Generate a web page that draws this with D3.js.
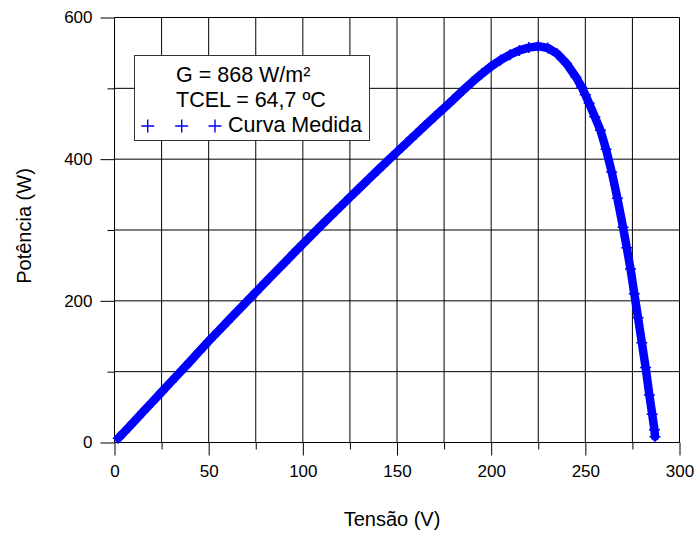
<!DOCTYPE html>
<html>
<head>
<meta charset="utf-8">
<script src="https://cdn.jsdelivr.net/npm/d3@7"></script>
<style>
	body { margin: 0; background: #fff; }
	text { font-family: Arial, 'Liberation Sans', sans-serif; fill: #000; }
</style>
</head>
<body>
<div id="chart"></div>
<script>
// measured P-V curve
var tensao = [2, 5, 10, 15, 20, 25, 30, 35, 40, 45, 50, 55, 60, 65, 70, 75, 80, 85, 90, 95,
	100, 105, 110, 115, 120, 125, 130, 135, 140, 145, 150, 155, 160, 165, 170, 175, 180, 185, 190, 195,
	200, 205, 210, 215, 220, 225, 230, 235, 240, 245, 248, 250, 252, 255, 258, 261, 264, 267, 270,
	272, 274, 276, 278, 280, 282, 284, 285.5, 286.7, 287];
var potencia = [6, 14.3, 28.5, 42.8, 57, 71.3, 85.5, 99.8, 114, 128.5, 143, 156.9, 170.8, 184.6, 198.4, 212.1, 225.8, 239.5, 253.1, 266.8,
	280.3, 293.6, 306.9, 320.1, 333.2, 346.2, 359.1, 372, 384.8, 397.5, 410.1, 422.7, 435.2, 447.6, 459.9, 472.1, 484.5, 497, 509, 520.5,
	531, 540, 547.5, 553.5, 557.5, 559.5, 557, 549, 535, 516, 502, 491, 479, 460, 441, 414, 382, 345, 304,
	275, 245, 210, 176, 141, 106, 67, 40, 18, 8];

var xMajor = [0, 50, 100, 150, 200, 250, 300];
var xMinor = [25, 75, 125, 175, 225, 275];
var yMajor = [0, 200, 400, 600];
var yMinor = [100, 300, 500];
var legendText = ['G = 868 W/m²', 'TCEL = 64,7 ºC'];
var seriesName = 'Curva Medida';

var width = 697, height = 535;
var margin = { top: 17.5, right: 17.5, bottom: 92.5, left: 114.5 };

var svg = d3.select('#chart').append('svg')
	.attr('width', width)
	.attr('height', height);

var x = d3.scaleLinear().domain([0, 300]).range([margin.left, width - margin.right]);
var y = d3.scaleLinear().domain([0, 600]).range([height - margin.bottom, margin.top]);

// grid
var grid = svg.append('g').attr('stroke', '#000').attr('stroke-width', 1);
grid.selectAll('.vgrid')
	.data(xMajor.concat(xMinor))
	.enter().append('line')
	.attr('x1', function(d) { return x(d); })
	.attr('x2', function(d) { return x(d); })
	.attr('y1', y(600))
	.attr('y2', y(0));
grid.selectAll('.hgrid')
	.data(yMajor.concat(yMinor))
	.enter().append('line')
	.attr('x1', x(0))
	.attr('x2', x(300))
	.attr('y1', function(d) { return y(d); })
	.attr('y2', function(d) { return y(d); });

// Add the X Axis
svg.append('g')
	.attr('transform', 'translate(0,' + y(0) + ')')
	.call(d3.axisBottom(x).tickValues(xMajor).tickSize(13).tickPadding(9).tickSizeOuter(0));
svg.append('g')
	.attr('transform', 'translate(0,' + y(0) + ')')
	.call(d3.axisBottom(x).tickValues(xMinor).tickSize(7).tickFormat('').tickSizeOuter(0));

// Add the Y Axis
svg.append('g')
	.attr('transform', 'translate(' + x(0) + ',0)')
	.call(d3.axisLeft(y).tickValues(yMajor).tickSize(14).tickPadding(8).tickSizeOuter(0));
svg.append('g')
	.attr('transform', 'translate(' + x(0) + ',0)')
	.call(d3.axisLeft(y).tickValues(yMinor).tickSize(7).tickFormat('').tickSizeOuter(0));

svg.selectAll('.domain').remove();
svg.selectAll('.tick line').attr('stroke', '#000');
svg.selectAll('.tick text')
	.style('font-family', "Arial, 'Liberation Sans', sans-serif")
	.style('font-size', '17px')
	.attr('fill', '#000');

// curve: thick trace plus the cross markers
var line = d3.line()
	.x(function(d) { return x(d[0]); })
	.y(function(d) { return y(d[1]); });
var pts = tensao.map(function(v, i) { return [v, potencia[i]]; });

svg.append('path')
	.datum(pts)
	.attr('fill', 'none')
	.attr('stroke', '#0000ff')
	.attr('stroke-width', 8.5)
	.attr('stroke-linejoin', 'round')
	.attr('stroke-linecap', 'round')
	.attr('d', line);

svg.append('g').selectAll('path')
	.data(pts)
	.enter().append('path')
	.attr('transform', function(d) { return 'translate(' + x(d[0]) + ',' + y(d[1]) + ')'; })
	.attr('d', 'M-5.5,0H5.5M0,-5.5V5.5')
	.attr('stroke', '#0000ff')
	.attr('stroke-width', 1.5);

// legend
var legend = svg.append('g');
legend.append('rect')
	.attr('x', 134.5).attr('y', 55.5)
	.attr('width', 235).attr('height', 85)
	.attr('fill', '#fff')
	.attr('stroke', '#333');
legend.selectAll('.ltext')
	.data(legendText)
	.enter().append('text')
	.attr('x', 176)
	.attr('y', function(d, i) { return 82 + i * 25; })
	.style('font-size', '21.5px')
	.text(function(d) { return d; });
legend.selectAll('.lmark')
	.data([147.7, 181.7, 215])
	.enter().append('path')
	.attr('transform', function(d) { return 'translate(' + d + ',126)'; })
	.attr('d', 'M-6.5,0H6.5M0,-6.5V6.5')
	.attr('stroke', '#0000ff')
	.attr('stroke-width', 1.4);
legend.append('text')
	.attr('x', 228)
	.attr('y', 132)
	.style('font-size', '21.5px')
	.text(seriesName);

// axis titles
svg.append('text')
	.attr('x', 392)
	.attr('y', 526)
	.attr('text-anchor', 'middle')
	.style('font-size', '20px')
	.text('Tensão (V)');
svg.append('text')
	.attr('transform', 'translate(31,226) rotate(-90)')
	.attr('text-anchor', 'middle')
	.style('font-size', '20px')
	.text('Potência (W)');
</script>
</body>
</html>
